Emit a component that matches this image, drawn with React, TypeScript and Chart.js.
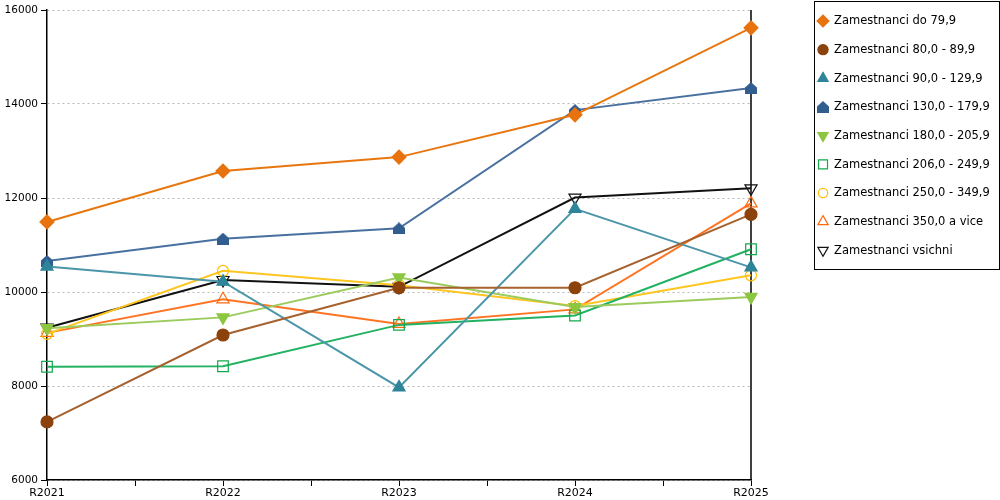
import React, { useEffect, useRef } from 'react';
import { Chart, registerables } from 'chart.js';
import { drawPoint } from 'chart.js/helpers';

Chart.register(...registerables);

const categories = ['R2021', 'R2022', 'R2023', 'R2024', 'R2025'];

const seriesNames = [
  'Zamestnanci do 79,9',
  'Zamestnanci 80,0 - 89,9',
  'Zamestnanci 90,0 - 129,9',
  'Zamestnanci 130,0 - 179,9',
  'Zamestnanci 180,0 - 205,9',
  'Zamestnanci 206,0 - 249,9',
  'Zamestnanci 250,0 - 349,9',
  'Zamestnanci 350,0 a vice',
  'Zamestnanci vsichni',
];

const do79 = [11490, 12575, 12870, 13770, 15620];
const z80_89 = [7235, 9085, 10090, 10090, 11650];
const z90_129 = [10540, 10220, 7970, 11770, 10525];
const z130_179 = [10660, 11135, 11355, 13870, 14340];
const z180_205 = [9230, 9460, 10310, 9680, 9895];
const z206_249 = [8410, 8420, 9300, 9500, 10910];
const z250_349 = [9110, 10450, 10145, 9700, 10355];
const z350plus = [9130, 9845, 9320, 9630, 11885];
const vsichni = [9240, 10255, 10110, 12010, 12205];

const yMin = 6000;
const yMax = 16000;
const yStep = 2000;

function makeHouse(color: string, size: number): HTMLCanvasElement {
  const c = document.createElement('canvas');
  c.width = size;
  c.height = size;
  const g = c.getContext('2d')!;
  g.fillStyle = color;
  g.beginPath();
  g.moveTo(size / 2, 0);
  g.lineTo(size, size * 0.45);
  g.lineTo(size, size);
  g.lineTo(0, size);
  g.lineTo(0, size * 0.45);
  g.closePath();
  g.fill();
  return c;
}

type Style = {
  line: string;
  fill: string;
  stroke: string;
  pointStyle: any;
  radius: number;
  rotation: number;
};

export default function App() {
  const ref = useRef<HTMLCanvasElement>(null);

  useEffect(() => {
    const house = makeHouse('#325D8F', 12);
    const styles: Style[] = [
      { line: '#E8760F', fill: '#E8730E', stroke: '#E8730E', pointStyle: 'rectRot', radius: 7, rotation: 0 },
      { line: '#A5622F', fill: '#8B420B', stroke: '#8B420B', pointStyle: 'circle', radius: 6, rotation: 0 },
      { line: '#4B96A8', fill: '#2E8499', stroke: '#2E8499', pointStyle: 'triangle', radius: 7, rotation: 0 },
      { line: '#49709F', fill: '#325D8F', stroke: '#325D8F', pointStyle: house, radius: 6, rotation: 0 },
      { line: '#9BCB5C', fill: '#8DC641', stroke: '#8DC641', pointStyle: 'triangle', radius: 7, rotation: 180 },
      { line: '#22B262', fill: 'transparent', stroke: '#13A84E', pointStyle: 'rect', radius: 7.5, rotation: 0 },
      { line: '#FFC520', fill: 'transparent', stroke: '#FFC000', pointStyle: 'circle', radius: 5.5, rotation: 0 },
      { line: '#FF7422', fill: 'transparent', stroke: '#FF6A10', pointStyle: 'triangle', radius: 7, rotation: 0 },
      { line: '#111111', fill: 'transparent', stroke: '#111111', pointStyle: 'triangle', radius: 7, rotation: 180 },
    ];
    const seriesValues = [do79, z80_89, z90_129, z130_179, z180_205, z206_249, z250_349, z350plus, vsichni];

    const datasets = seriesValues.map((vals, i) => {
      const s = styles[i];
      return {
        label: seriesNames[i],
        data: vals.map((v, j) => ({ x: j, y: v })),
        borderColor: s.line,
        backgroundColor: s.fill,
        borderWidth: 2,
        pointStyle: s.pointStyle,
        pointRadius: s.radius,
        pointHoverRadius: s.radius,
        pointRotation: s.rotation,
        pointBackgroundColor: s.fill,
        pointBorderColor: s.stroke,
        pointBorderWidth: 1.2,
        tension: 0,
        clip: false as any,
      };
    });

    const boxLegend = {
      id: 'boxLegend',
      afterDraw(chart: any) {
        const ctx = chart.ctx as CanvasRenderingContext2D;
        ctx.save();
        ctx.strokeStyle = '#000';
        ctx.lineWidth = 1;
        ctx.strokeRect(814.5, 1.5, 185, 268);
        chart.data.datasets.forEach((ds: any, i: number) => {
          const s = styles[i];
          const y = 21 + i * 28.66;
          ctx.save();
          ctx.fillStyle = s.fill;
          ctx.strokeStyle = s.stroke;
          ctx.lineWidth = 1.2;
          drawPoint(
            ctx,
            { pointStyle: s.pointStyle, radius: s.radius * 0.85, rotation: s.rotation, borderWidth: 1.2 } as any,
            823,
            y
          );
          ctx.restore();
          ctx.fillStyle = '#000';
          ctx.font = '11.5px "DejaVu Sans"';
          ctx.textAlign = 'left';
          ctx.textBaseline = 'middle';
          ctx.fillText(ds.label, 834, y + 0.5);
        });
        ctx.restore();
      },
    };

    const rightBorder = {
      id: 'rightBorder',
      beforeDatasetsDraw(chart: any) {
        const { ctx, chartArea } = chart;
        ctx.save();
        ctx.strokeStyle = '#000';
        ctx.lineWidth = 1.5;
        ctx.beginPath();
        ctx.moveTo(Math.round(chartArea.right), chartArea.top);
        ctx.lineTo(Math.round(chartArea.right), chartArea.bottom);
        ctx.stroke();
        ctx.restore();
      },
    };

    const chart = new Chart(ref.current!, {
      type: 'line',
      data: { datasets: datasets as any },
      options: {
        animation: false,
        responsive: false,
        maintainAspectRatio: false,
        devicePixelRatio: 1,
        layout: { padding: { top: 10, right: 249, left: 0, bottom: 0 } },
        plugins: {
          legend: { display: false },
          tooltip: { enabled: false },
        },
        scales: {
          x: {
            type: 'linear',
            min: 0,
            max: categories.length - 1,
            afterFit(scale: any) {
              scale.height = 20;
            },
            afterBuildTicks(scale: any) {
              const t = [];
              for (let v = 0; v <= categories.length - 1 + 1e-9; v += 0.5) t.push({ value: v });
              scale.ticks = t;
            },
            ticks: {
              autoSkip: false,
              maxRotation: 0,
              padding: 1,
              color: '#000',
              font: { family: '"DejaVu Sans"', size: 11 },
              callback: (v: any) => (Number.isInteger(v) ? categories[v] : ''),
            },
            grid: {
              drawOnChartArea: false,
              drawTicks: true,
              tickLength: 6,
              tickColor: '#000',
              tickWidth: 1,
            },
            border: { color: '#000', width: 1.5 },
          },
          y: {
            type: 'linear',
            min: yMin,
            max: yMax,
            afterFit(scale: any) {
              scale.width = 47;
            },
            ticks: {
              stepSize: yStep,
              padding: 3,
              color: '#000',
              font: { family: '"DejaVu Sans"', size: 10.5 },
              callback: (v: any) => String(v),
            },
            grid: {
              color: '#B8B8B8',
              lineWidth: 1,
              drawTicks: true,
              tickLength: 6,
              tickColor: '#000',
              tickBorderDash: [],
              tickWidth: 1,
            } as any,
            border: { color: '#000', width: 1.5, dash: [2, 3] } as any,
          },
        },
      } as any,
      plugins: [rightBorder, boxLegend],
    });
    return () => chart.destroy();
  }, []);

  return (
    <div style={{ position: 'fixed', left: 0, top: 0, width: 1000, height: 500, background: '#fff' }}>
      <canvas ref={ref} width={1000} height={500} style={{ width: 1000, height: 500, display: 'block' }} />
    </div>
  );
}
